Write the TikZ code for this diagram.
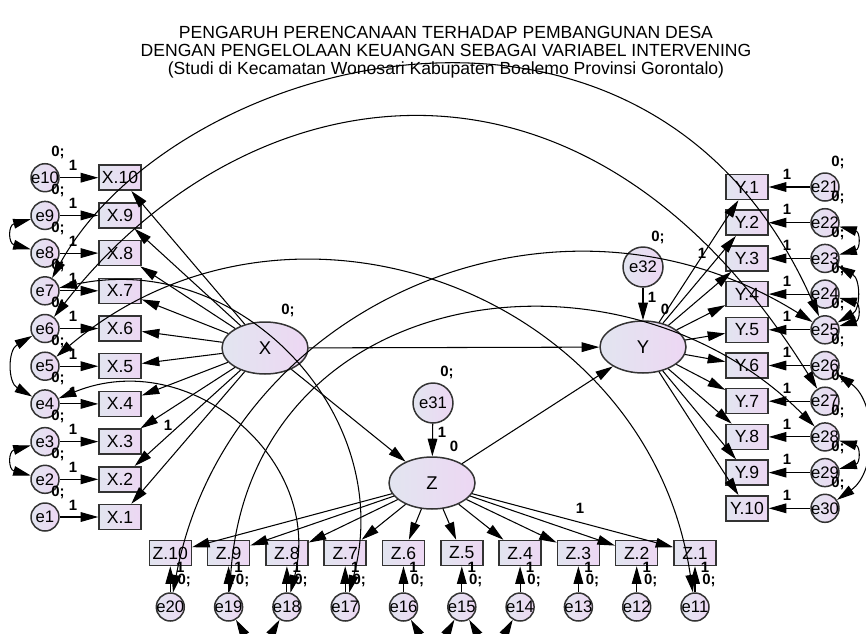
\documentclass[tikz,border=0pt]{standalone}
\usepackage{fontspec}
\setmainfont{Liberation Sans}
\usepackage{tikz}
\usetikzlibrary{shapes,arrows.meta,positioning}
\usepackage{xcolor}
\definecolor{fillleft}{RGB}{226,229,240}
\definecolor{fillright}{RGB}{237,215,243}

\tikzset{
    >={Triangle[length=10pt,width=5.5pt]},
    obsbox/.style={draw=black!80, line width=0.85pt, rectangle, minimum width=0.84cm, minimum height=0.5cm, inner sep=0pt, left color=fillleft, right color=fillright, font=\fontsize{10}{12}\selectfont},
    errcirc/.style={draw=black!80, line width=0.85pt, circle, minimum size=0.56cm, inner sep=0pt, left color=fillleft, right color=fillright, font=\fontsize{9.5}{11}\selectfont},
    latent/.style={draw=black!80, line width=0.85pt, ellipse, minimum width=1.72cm, minimum height=1.04cm, inner sep=0pt, left color=fillleft, right color=fillright, font=\fontsize{10.5}{12}\selectfont},
    est/.style={font=\fontsize{8.5}{10}\selectfont\bfseries, inner sep=0pt},
    conn/.style={line width=0.6pt, ->},
    covconn/.style={line width=0.6pt, <->}
}

\begin{document}
\begin{tikzpicture}[x=0.02cm, y=0.02cm]
    \useasboundingbox (0,0) rectangle (866,-633);

    \node[font=\fontsize{10}{10.2}\selectfont, align=center] (title) at (446,-52) {PENGARUH PERENCANAAN TERHADAP PEMBANGUNAN DESA\\DENGAN PENGELOLAAN KEUANGAN SEBAGAI VARIABEL INTERVENING\\(Studi di Kecamatan Wonosari Kabupaten Boalemo Provinsi Gorontalo)};

    % latent variables
    \node[latent] (X) at (265,-348) {X};
    \node[latent] (Y) at (643,-347) {Y};
    \node[latent] (Z) at (432,-483) {Z};
    \node[errcirc, minimum size=0.8cm] (e31) at (433,-403) {e31};
    \node[errcirc, minimum size=0.8cm] (e32) at (643,-267) {e32};

    % X indicators
    \foreach \i in {1,...,10} {
        \node[obsbox] (x\i) at (120,-517+37.7*\i-37.7) {X.\i};
        \node[errcirc] (e\i) at (45,-517+37.7*\i-37.7) {\makebox[0pt]{e\i}};
    }

    % Y indicators
    \foreach \i [evaluate=\i as \j using int(20+\i)] in {1,...,10} {
        \node[obsbox] (y\i) at (747,-187-35.7*\i+35.7) {Y.\i};
        \node[errcirc] (e\j) at (825,-187-35.7*\i+35.7) {\makebox[0pt]{e\j}};
    }

    % Z indicators
    \foreach \i [evaluate=\i as \j using int(10+\i)] in {1,...,10} {
        \node[obsbox] (z\i) at (695-58.3*\i+58.3,-553) {Z.\i};
        \node[errcirc] (e\j) at (695-58.3*\i+58.3,-607) {\makebox[0pt]{e\j}};
    }

    % loadings and measurement errors
    \foreach \i in {1,...,10} {
        \draw[conn] (X) -- (x\i);
        \draw[conn] (e\i) -- (x\i);
        \node[est, xshift=0.56cm, yshift=0.24cm] at (e\i) {1};
        \node[est, xshift=0.26cm, yshift=0.5cm] at (e\i) {0;};
    }
    \foreach \i [evaluate=\i as \j using int(20+\i)] in {1,...,10} {
        \draw[conn] (Y) -- (y\i);
        \draw[conn] (e\j) -- (y\i);
        \node[est, xshift=-0.76cm, yshift=0.26cm] at (e\j) {1};
        \node[est, xshift=0.26cm, yshift=0.5cm] at (e\j) {0;};
    }
    \foreach \i [evaluate=\i as \j using int(10+\i)] in {1,...,10} {
        \draw[conn] (Z) -- (z\i);
        \draw[conn] (e\j) -- (z\i);
        \node[est, xshift=0.2cm, yshift=0.8cm] at (e\j) {1};
        \node[est, xshift=0.28cm, yshift=0.54cm] at (e\j) {0;};
    }

    % structural paths
    \draw[conn] (X) -- (Y);
    \draw[conn] (X) -- (Z);
    \draw[conn] (Z) -- (Y);
    \draw[conn] (e31) -- (Z);
    \draw[conn] (e32) -- (Y);

    \node[est] at (288,-310) {0;};
    \node[est] at (447,-372) {0;};
    \node[est] at (442,-432) {1};
    \node[est] at (454,-446) {0};
    \node[est] at (658,-237) {0;};
    \node[est] at (652,-297) {1};
    \node[est] at (665,-309) {0};
    \node[est] at (168,-425) {1};
    \node[est] at (702,-253) {1};
    \node[est] at (580,-508) {1};

    % short covariances
    \draw[covconn] (e9) to[out=195,in=165,looseness=2] (e8);
    \draw[covconn] (e6) to[out=210,in=150,looseness=1.2] (e4);
    \draw[covconn] (e3) to[out=195,in=165,looseness=2] (e2);
    \draw[covconn] (e22) to[out=-15,in=15,looseness=2] (e23);
    \draw[covconn] (e23) to[out=-30,in=30,looseness=1.2] (e25);
    \draw[covconn] (e24) to[out=-15,in=15,looseness=2] (e25);
    \draw[covconn] (e26) to[out=-35,in=35,looseness=1] (e30);
    \draw[covconn] (e28) to[out=-15,in=15,looseness=2] (e29);
    \draw[covconn] (e19) to[out=-60,in=-120] (e18);
    \draw[covconn] (e16) to[out=-60,in=-120] (e15);
    \draw[covconn] (e15) to[out=-60,in=-120] (e14);

    % long covariances
    \draw[covconn] (e7) .. controls (175,-56) and (647,73) .. (e25);
    \draw[covconn] (e6) .. controls (241,-76) and (579,-6) .. (e27);
    \draw[covconn] (e5) .. controls (292,-158) and (649,-294) .. (e11);
    \draw[covconn] (e4) .. controls (190,-345) and (324,-460) .. (e18);
    \draw[covconn] (e7) .. controls (241,-249) and (397,-416) .. (e17);
    \draw[covconn] (e20) .. controls (227,-305) and (555,-161) .. (e25);
    \draw[covconn] (e19) .. controls (250,-280) and (620,-230) .. (e28);
\end{tikzpicture}
\end{document}
